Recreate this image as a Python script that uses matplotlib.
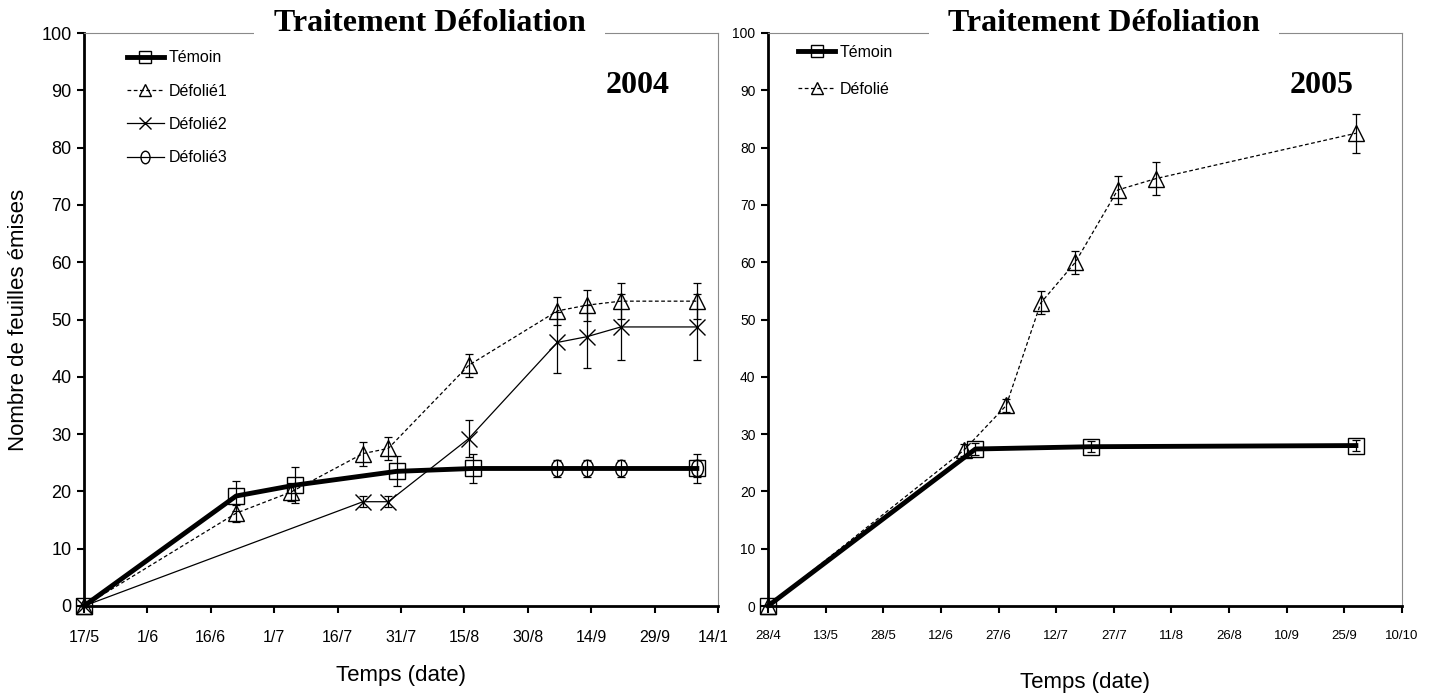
import numpy as np
import pandas as pd
import matplotlib
matplotlib.use('Agg')
import matplotlib.pyplot as plt
from matplotlib.path import Path
from matplotlib.transforms import Bbox

# ---- 2004 data ----
temoin04_dates = ['2004-05-17', '2004-06-22', '2004-07-06', '2004-07-30', '2004-08-17', '2004-10-09']
temoin04 = [0, 19.2, 21.1, 23.5, 24.0, 24.0]
temoin04_err = [0, 2.7, 3.1, 2.6, 2.5, 2.5]

def1_dates = ['2004-05-17', '2004-06-22', '2004-07-05', '2004-07-22', '2004-07-28',
              '2004-08-16', '2004-09-06', '2004-09-13', '2004-09-21', '2004-10-09']
def1 = [0, 16.2, 19.9, 26.6, 27.5, 42.0, 51.5, 52.5, 53.2, 53.2]
def1_err = [0, 1.5, 1.5, 2.1, 2.0, 2.0, 2.5, 2.7, 3.1, 3.1]

def2_dates = ['2004-05-17', '2004-07-22', '2004-07-28', '2004-08-16',
              '2004-09-06', '2004-09-13', '2004-09-21', '2004-10-09']
def2 = [0, 18.2, 18.2, 29.2, 46.0, 47.0, 48.7, 48.7]
def2_err = [0, 1.0, 1.0, 3.2, 5.3, 5.5, 5.8, 5.8]

def3_dates = ['2004-09-06', '2004-09-13', '2004-09-21', '2004-10-09']
def3 = [24.0, 24.0, 24.0, 24.0]
def3_err = [1.5, 1.5, 1.5, 1.5]

# ---- 2005 data ----
temoin05_dates = ['2005-04-28', '2005-06-21', '2005-07-21', '2005-09-28']
temoin05 = [0, 27.4, 27.8, 28.0]
temoin05_err = [0, 1.0, 1.0, 1.0]

def05_dates = ['2005-04-28', '2005-06-18', '2005-06-29', '2005-07-08', '2005-07-17',
               '2005-07-28', '2005-08-07', '2005-09-28']
def05 = [0, 27.2, 35.0, 52.9, 60.0, 72.6, 74.6, 82.5]
def05_err = [0, 1.0, 1.2, 2.0, 2.0, 2.5, 2.8, 3.4]

ticks04_start, ticks04_n = '2004-05-17', 11
ticks05_start, ticks05_n = '2005-04-28', 12

sans = ['Liberation Sans', 'DejaVu Sans']
serif = ['Liberation Serif', 'DejaVu Serif']

# tall ellipse marker for Défolié3
circ = Path.unit_circle()
ellipse = Path(circ.vertices * np.array([0.72, 1.0]), circ.codes)

fig = plt.figure(figsize=(14.37, 6.98), dpi=100)
ax1 = fig.add_axes([84 / 1437, 92 / 698, 634 / 1437, 573 / 698])
ax2 = fig.add_axes([768 / 1437, 92 / 698, 634 / 1437, 573 / 698])


def series(ax, dates, vals, err, ls, lw, marker, ms, label):
    x = pd.to_datetime(dates)
    ax.errorbar(x, vals, yerr=err, fmt='none', ecolor='black',
                elinewidth=0.9, capsize=3, capthick=0.9, clip_on=False, zorder=3)
    ax.plot(x, vals, color='black', ls=ls, lw=lw, marker=marker, ms=ms,
            mfc='none', mec='black', mew=1.0, label=label, clip_on=False, zorder=4)


series(ax1, def1_dates, def1, def1_err, (0, (3, 2)), 0.9, '^', 12, 'Défolié1')
series(ax1, def2_dates, def2, def2_err, '-', 0.9, 'x', 12, 'Défolié2')
series(ax1, def3_dates, def3, def3_err, '-', 0.9, ellipse, 12, 'Défolié3')
series(ax1, temoin04_dates, temoin04, temoin04_err, '-', 3.5, 's', 11.5, 'Témoin')

series(ax2, def05_dates, def05, def05_err, (0, (3, 2)), 0.9, '^', 12, 'Défolié')
series(ax2, temoin05_dates, temoin05, temoin05_err, '-', 3.5, 's', 11.5, 'Témoin')

for ax, start, n, fs, yfs, year, tx, lp in [(ax1, ticks04_start, ticks04_n, 11.5, 13, '2004', 0.545, 15),
                                            (ax2, ticks05_start, ticks05_n, 9.5, 10, '2005', 0.53, 22)]:
    tks = pd.date_range(start, periods=n, freq='15D')
    ax.set_xlim(tks[0], tks[-1])
    ax.set_ylim(0, 100)
    ax.set_xticks(tks)
    ax.set_xticklabels([f'{t.day}/{t.month}' for t in tks], fontsize=fs, family=sans)
    ax.set_yticks(np.arange(0, 101, 10))
    for lab in ax.get_yticklabels():
        lab.set_family(sans)
        lab.set_fontsize(yfs)
    ax.tick_params(axis='both', direction='out', length=5, width=1.5, color='black')
    ax.tick_params(axis='x', pad=12)
    ax.tick_params(axis='y', pad=4)
    for s in ['left', 'bottom']:
        ax.spines[s].set_linewidth(2)
        ax.spines[s].set_color('black')
    for s in ['top', 'right']:
        ax.spines[s].set_linewidth(0.8)
        ax.spines[s].set_color('#8a8a8a')
    ax.text(tx, 1.004, 'Traitement Défoliation', transform=ax.transAxes,
            ha='center', va='baseline', family=serif, fontweight='bold', fontsize=23,
            bbox=dict(facecolor='white', edgecolor='none', pad=14), zorder=10)
    ax.text(0.923, 0.909, year, transform=ax.transAxes, ha='right', va='center',
            family=serif, fontweight='bold', fontsize=23)
    ax.set_xlabel('Temps (date)', family=sans, fontsize=16, labelpad=lp)

ax1.set_ylabel('Nombre de feuilles émises', family=sans, fontsize=16, labelpad=9)

# legends
h, l = ax1.get_legend_handles_labels()
order = [3, 0, 1, 2]
ax1.legend([h[i] for i in order], [l[i] for i in order], loc='upper left',
           bbox_to_anchor=(0.045, 0.995), frameon=False, prop={'family': sans, 'size': 11.5},
           handlelength=2.3, handletextpad=0.3, labelspacing=1.15, markerscale=0.75)
h, l = ax2.get_legend_handles_labels()
ax2.legend([h[1], h[0]], [l[1], l[0]], loc='upper left',
           bbox_to_anchor=(0.025, 1.005), frameon=False, prop={'family': sans, 'size': 11.5},
           handlelength=2.3, handletextpad=0.3, labelspacing=1.4, markerscale=0.75)

# last 2004 tick label is cut by the right panel
last = ax1.xaxis.get_major_ticks()[-1].label1
last.set_clip_on(True)
last.set_clip_box(Bbox.from_extents(0, 0, 727, 698))

fig.savefig('out.png', dpi=100)
